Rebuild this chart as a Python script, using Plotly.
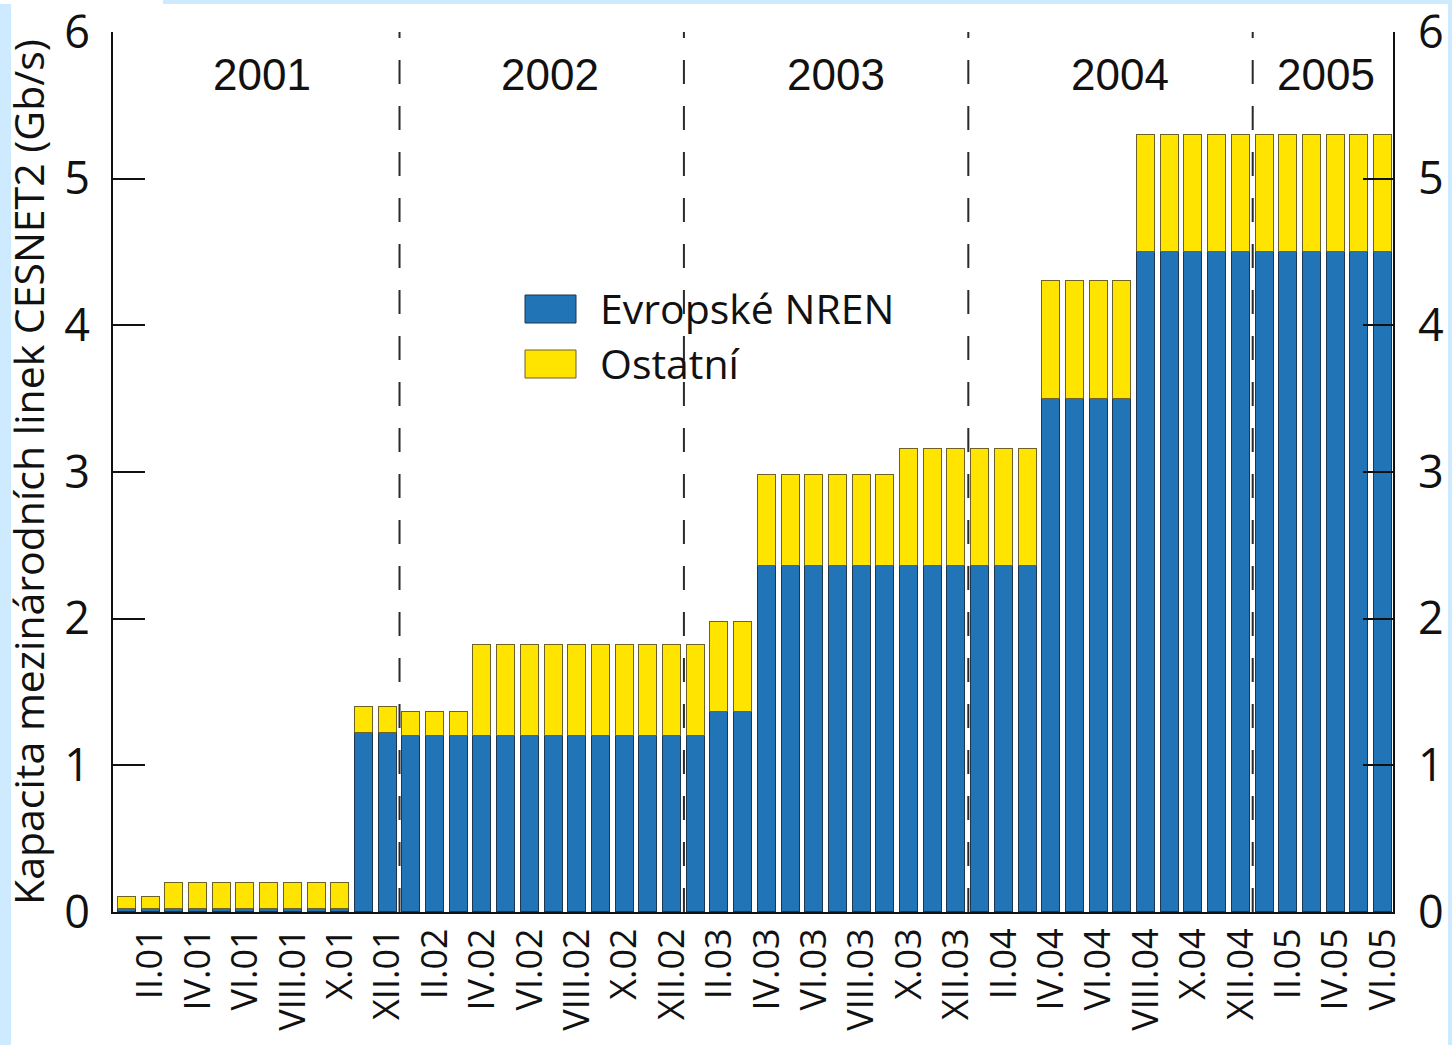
import plotly.graph_objects as go

# ---- data ----
months = ["I.01","II.01","III.01","IV.01","V.01","VI.01","VII.01","VIII.01","IX.01","X.01","XI.01","XII.01",
          "I.02","II.02","III.02","IV.02","V.02","VI.02","VII.02","VIII.02","IX.02","X.02","XI.02","XII.02",
          "I.03","II.03","III.03","IV.03","V.03","VI.03","VII.03","VIII.03","IX.03","X.03","XI.03","XII.03",
          "I.04","II.04","III.04","IV.04","V.04","VI.04","VII.04","VIII.04","IX.04","X.04","XI.04","XII.04",
          "I.05","II.05","III.05","IV.05","V.05","VI.05"]
nren = [0.02,0.02,0.02,0.02,0.02,0.02,0.02,0.02,0.02,0.02,1.22,1.22,
        1.20,1.20,1.20,1.20,1.20,1.20,1.20,1.20,1.20,1.20,1.20,1.20,
        1.20,1.36,1.36,2.36,2.36,2.36,2.36,2.36,2.36,2.36,2.36,2.36,
        2.36,2.36,2.36,3.50,3.50,3.50,3.50,4.50,4.50,4.50,4.50,4.50,
        4.50,4.50,4.50,4.50,4.50,4.50]
total = [0.10,0.10,0.20,0.20,0.20,0.20,0.20,0.20,0.20,0.20,1.40,1.40,
         1.36,1.36,1.36,1.82,1.82,1.82,1.82,1.82,1.82,1.82,1.82,1.82,
         1.82,1.98,1.98,2.98,2.98,2.98,2.98,2.98,2.98,3.16,3.16,3.16,
         3.16,3.16,3.16,4.30,4.30,4.30,4.30,5.30,5.30,5.30,5.30,5.30,
         5.30,5.30,5.30,5.30,5.30,5.30]
other = [round(t - n, 3) for t, n in zip(total, nren)]
tick_labels = months[1::2]
y_ticks = [0, 1, 2, 3, 4, 5, 6]
years = ["2001", "2002", "2003", "2004", "2005"]
year_centers = [5.7, 17.85, 29.9, 41.9, 50.6]
year_bounds = [11.5, 23.5, 35.5, 47.5]
series_names = ["Evropské NREN", "Ostatní"]

BLUE = "#2174b5"
YELLOW = "#ffe400"
BG = "#cdeaff"
FONT = "Open Sans"

W, H = 1452, 1045
L, R, T, B = 113, 1393, 32, 912

x = list(range(len(months)))

fig = go.Figure()
fig.add_trace(go.Bar(x=x, y=nren, name=series_names[0], marker=dict(color=BLUE, line=dict(color="#1d3550", width=1)),
                     width=0.76, showlegend=False))
fig.add_trace(go.Bar(x=x, y=other, name=series_names[1], marker=dict(color=YELLOW, line=dict(color="#6e6128", width=1)),
                     width=0.76, showlegend=False))
fig.add_trace(go.Scatter(x=[None], y=[None], yaxis="y2", showlegend=False, hoverinfo="skip"))

def px2x(px):
    return (px - L) / (R - L)

def py2y(py):
    return (B - py) / (B - T)

shapes = [
    dict(type="rect", xref="paper", yref="paper", x0=px2x(11), x1=px2x(1448), y0=py2y(H + 5), y1=py2y(4),
         fillcolor="white", line=dict(width=0), layer="below"),
    dict(type="rect", xref="paper", yref="paper", x0=px2x(0), x1=px2x(163), y0=py2y(4), y1=py2y(0),
         fillcolor="white", line=dict(width=0), layer="below"),
]
for b in year_bounds:
    shapes.append(dict(type="line", xref="x", yref="y", x0=b, x1=b, y0=0, y1=6,
                       line=dict(color="#2a2a2a", width=2, dash="24px,22px"), layer="below"))

legend_boxes = [(295, 323, BLUE, "#1d3550"), (350, 378, YELLOW, "#6e6128")]
for (y0, y1, fc, lc) in legend_boxes:
    shapes.append(dict(type="rect", xref="paper", yref="paper", x0=px2x(525), x1=px2x(576),
                       y0=py2y(y1), y1=py2y(y0), fillcolor=fc, line=dict(color=lc, width=1)))

annotations = []
for yr, c in zip(years, year_centers):
    annotations.append(dict(x=c, y=py2y(75), xref="x", yref="paper", text=yr, showarrow=False,
                            font=dict(family="Liberation Sans", size=44, color="#111"), xanchor="center", yanchor="middle"))
for name, cy in zip(series_names, [308, 363]):
    annotations.append(dict(x=px2x(598), y=py2y(cy), xref="paper", yref="paper", text=name, showarrow=False,
                            font=dict(family=FONT, size=41, color="#111"), xanchor="left", yanchor="middle"))

fig.update_layout(
    width=W, height=H,
    margin=dict(l=L, r=W - R, t=T, b=H - B, pad=0, autoexpand=False),
    paper_bgcolor=BG, plot_bgcolor="white",
    barmode="stack", bargap=0,
    font=dict(family=FONT, color="#111"),
    shapes=shapes, annotations=annotations,
    xaxis=dict(range=[-0.59, 53.42], tickvals=x[1::2], ticktext=tick_labels, tickangle=-90,
               tickfont=dict(size=36, family=FONT), showline=True, linecolor="#111", linewidth=2,
               ticks="", showgrid=False, zeroline=False, fixedrange=True, ticklabelstandoff=0,
               automargin=False, ticklabeloverflow="allow"),
    yaxis=dict(range=[-0.0005, 6.0005], tickvals=y_ticks, ticks="inside", ticklen=32, tickwidth=2,
               tickcolor="#111", showline=True, linecolor="#111", linewidth=2, showgrid=False, zeroline=False,
               tickfont=dict(size=45, family=FONT), ticklabelstandoff=12, automargin=False, ticklabeloverflow="allow",
               title=dict(text="Kapacita mezinárodních linek CESNET2 (Gb/s)", font=dict(size=41, family=FONT), standoff=8)),
    yaxis2=dict(range=[-0.0005, 6.0005], tickvals=y_ticks, overlaying="y", side="right", ticks="inside",
                ticklen=30, tickwidth=2, tickcolor="#111", showline=True, linecolor="#111", linewidth=2,
                showgrid=False, zeroline=False, tickfont=dict(size=45, family=FONT), ticklabelstandoff=14,
                automargin=False, ticklabeloverflow="allow"),
)

fig.write_html("out.html", config={"displayModeBar": False},
               post_script="document.body.style.margin='0px';document.body.style.background='" + BG + "';")
